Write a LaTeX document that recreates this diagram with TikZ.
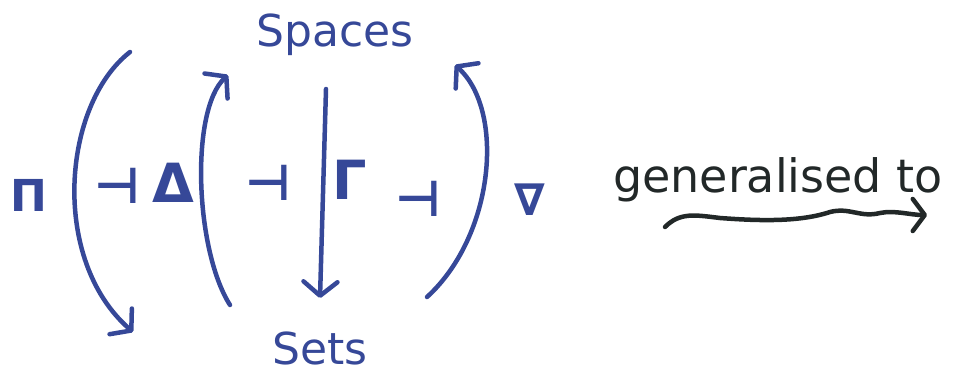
\documentclass[tikz,border=0pt]{standalone}
\usepackage{fontspec}
\setmainfont{DejaVu Sans}
\usetikzlibrary{arrows.meta}
\definecolor{ink}{RGB}{54,72,152}
\definecolor{dark}{RGB}{34,40,40}
\tikzset{
  stroke/.style={draw=ink, line width=4.5pt, line cap=round, line join=round},
  barb/.style={-{Straight Barb[length=14pt,width=34pt,round]}},
  word/.style={text=ink, inner sep=0pt, anchor=base},
  sym/.style={text=ink, inner sep=0pt, font=\fontsize{54}{58}\selectfont\bfseries},
  symsmall/.style={text=ink, inner sep=0pt, font=\fontsize{44}{48}\selectfont\bfseries},
  adj/.style={text=ink, inner sep=0pt, font=\fontsize{50}{54}\selectfont\bfseries},
}
\begin{document}
\begin{tikzpicture}[x=1pt,y=-1pt]
\useasboundingbox (0,0) rectangle (955,377);
% objects
\node[word, font=\fontsize{44}{48}\selectfont] (spaces) at (335,47) {Spaces};
\node[word, font=\fontsize{44}{48}\selectfont] (sets) at (320,364) {Sets};
% functor labels
\node[symsmall] (pi) at (29,195) {Π};
\node[adj] (a1) at (117,186) {⊣};
\node[sym] (delta) at (173,183) {Δ};
\node[adj] (a2) at (268,183) {⊣};
\node[sym] (gamma) at (350,180) {Γ};
\node[adj] (a3) at (418,199) {⊣};
\node[symsmall] (nabla) at (530,200) {∇};
% arrows
\coordinate (piS) at (130,52);
\coordinate (piE) at (133,332);
\coordinate (deS) at (230,305);
\coordinate (deE) at (228,75);
\coordinate (gaS) at (326,89);
\coordinate (gaE) at (320,298);
\coordinate (naS) at (427,297);
\coordinate (naE) at (455,65);
\draw[stroke, barb] (piS) .. controls (62,105) and (50,260) .. (piE);
\draw[stroke, barb] (deS) .. controls (195,250) and (190,110) .. (deE);
\draw[stroke, barb] (gaS) -- (gaE);
\draw[stroke, barb] (naS) .. controls (495,235) and (505,110) .. (naE);
% generalised to
\node[inner sep=0pt, anchor=base, text=dark, font=\fontsize{46}{50}\selectfont] (gen) at (778,192) {generalised to};
\coordinate (sqS) at (665,227);
\coordinate (sqE) at (927,215);
\draw[draw=dark, line width=4.5pt, line cap=round, line join=round, -{Straight Barb[length=12pt,width=32pt,round]}]
  (sqS) .. controls (680,212) and (695,215) .. (720,218)
  .. controls (760,221) and (800,222) .. (830,212)
  .. controls (850,207) and (860,218) .. (880,213)
  .. controls (895,210) and (910,215) .. (sqE);
\end{tikzpicture}
\end{document}
